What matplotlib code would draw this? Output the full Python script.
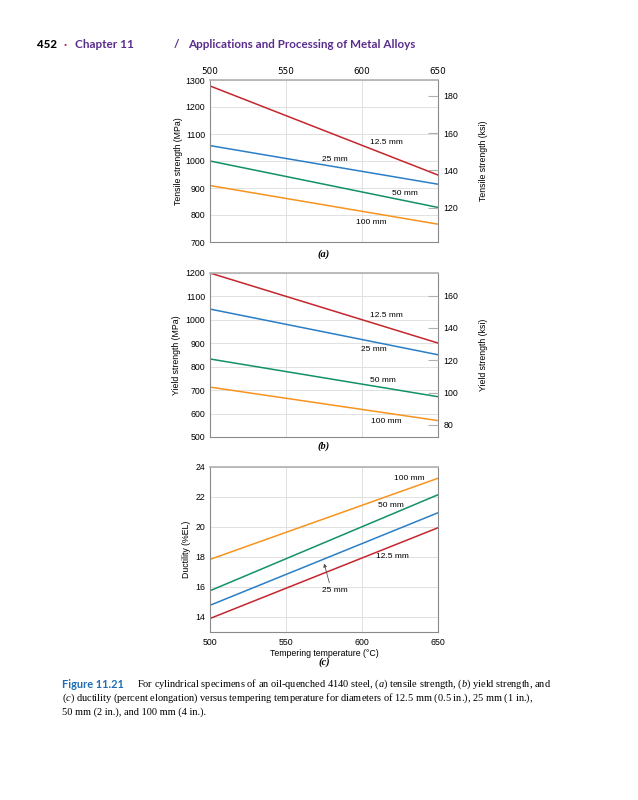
import matplotlib
matplotlib.use("Agg")
import matplotlib.pyplot as plt

W, H = 638, 800
temps = [500, 650]
diameters = ["12.5 mm", "25 mm", "50 mm", "100 mm"]
colors = ["#c4262e", "#2a7ec6", "#11906a", "#f7931e"]

tensile = {"12.5 mm": [1278, 948], "25 mm": [1057, 914], "50 mm": [1000, 828], "100 mm": [909, 766]}
yield_s = {"12.5 mm": [1200, 901], "25 mm": [1046, 851], "50 mm": [833, 672], "100 mm": [713, 570]}
ductility = {"12.5 mm": [13.9, 19.95], "25 mm": [14.78, 20.95], "50 mm": [15.75, 22.15], "100 mm": [17.84, 23.25]}

x_ticks = [500, 550, 600, 650]
tensile_ticks = [700, 800, 900, 1000, 1100, 1200, 1300]
tensile_ksi_ticks = [120, 140, 160, 180]
yield_ticks = [500, 600, 700, 800, 900, 1000, 1100, 1200]
yield_ksi_ticks = [80, 100, 120, 140, 160]
duct_ticks = [14, 16, 18, 20, 22, 24]

# label positions (x, y) in data units
tensile_lbl = {"12.5 mm": (616, 1067), "25 mm": (582, 1007), "50 mm": (628, 878), "100 mm": (606, 774)}
yield_lbl = {"12.5 mm": (616, 1018), "25 mm": (608, 873), "50 mm": (614, 741), "100 mm": (616, 567)}
duct_lbl = {"12.5 mm": (620, 18.0), "25 mm": (582, 15.77), "50 mm": (619, 21.43), "100 mm": (631, 23.22)}

MPA2KSI = 0.145038
SANS = ["Liberation Sans", "DejaVu Sans"]
TS = 6.3
tick_font = dict(family=SANS, size=6.0)
label_font = dict(family=SANS, size=6.3)

plt.rcParams["mathtext.fontset"] = "custom"
plt.rcParams["mathtext.it"] = "Liberation Serif:italic"
plt.rcParams["mathtext.rm"] = "Liberation Serif"

fig = plt.figure(figsize=(W / 100, H / 100), dpi=100)
fig.patch.set_facecolor("white")


def make_ax(top, bottom):
    return fig.add_axes([210 / W, (H - bottom) / H, 228 / W, (bottom - top) / H])


def style(ax, yticks, ylim):
    ax.set_xlim(500, 650)
    ax.set_ylim(*ylim)
    ax.set_xticks(x_ticks)
    ax.set_yticks(yticks)
    ax.grid(True, color="#dcdcdc", lw=0.6)
    ax.set_axisbelow(True)
    for s in ax.spines.values():
        s.set_color("#8a8a8a")
        s.set_linewidth(0.8)
    ax.spines["top"].set_color("#b0b0b0")
    ax.spines["top"].set_linewidth(1.2)
    ax.tick_params(axis="both", length=0, pad=3.5, labelsize=TS)
    for t in ax.get_xticklabels() + ax.get_yticklabels():
        t.set_fontfamily(SANS)


def add_right(ax, ticks, conv, label):
    ax2 = ax.twinx()
    lo, hi = ax.get_ylim()
    ax2.set_ylim(lo * conv, hi * conv)
    ax2.set_yticks(ticks)
    ax2.tick_params(axis="y", direction="in", length=7, width=0.8, color="#b0b0b0", pad=4, labelsize=TS)
    for s in ax2.spines.values():
        s.set_visible(False)
    for t in ax2.get_yticklabels():
        t.set_fontfamily(SANS)
    ax2.set_ylabel(label, fontdict=label_font, labelpad=15)
    return ax2


# Panel (a)
axa = make_ax(80, 242)
style(axa, tensile_ticks, (700, 1300))
axa.xaxis.tick_top()
axa.tick_params(axis="x", length=0, pad=3)
for d, c in zip(diameters, colors):
    axa.plot(temps, tensile[d], color=c, lw=1.1)
    axa.text(*tensile_lbl[d], d, fontdict=tick_font, ha="center", va="center")
axa.set_ylabel("Tensile strength (MPa)", fontdict=label_font, labelpad=2)
add_right(axa, tensile_ksi_ticks, MPA2KSI, "Tensile strength (ksi)")

# Panel (b)
axb = make_ax(273, 437)
style(axb, yield_ticks, (500, 1200))
axb.set_xticklabels([])
for d, c in zip(diameters, colors):
    axb.plot(temps, yield_s[d], color=c, lw=1.1)
    axb.text(*yield_lbl[d], d, fontdict=tick_font, ha="center", va="center")
axb.set_ylabel("Yield strength (MPa)", fontdict=label_font, labelpad=3)
add_right(axb, yield_ksi_ticks, MPA2KSI, "Yield strength (ksi)")

# Panel (c)
axc = make_ax(467, 632)
style(axc, duct_ticks, (13, 24))
axc.tick_params(axis="x", pad=4)
for d, c in zip(diameters, colors):
    axc.plot(temps, ductility[d], color=c, lw=1.1)
    axc.text(*duct_lbl[d], d, fontdict=tick_font, ha="center", va="center")
axc.annotate("", xy=(574.6, 17.75), xytext=(579, 16.1),
             arrowprops=dict(arrowstyle="-|>", color="#555555", lw=0.6, mutation_scale=5))
axc.set_ylabel("Ductility (%EL)", fontdict=label_font, labelpad=3)
axc.set_xlabel("Tempering temperature (\u00b0C)", fontdict=label_font, labelpad=1.5)

# panel tags
for lab, y in [("(a)", 254), ("(b)", 446), ("(c)", 662)]:
    fig.text(324 / W, 1 - y / H, lab, family=["Liberation Serif", "DejaVu Serif"],
             style="italic", weight="bold", size=7.5, ha="center", va="center")

# header
purple = "#5a2d8c"
hy = 1 - 45 / H
hf = ["Lato", "DejaVu Sans"]
fig.text(37 / W, hy, "452", family=hf, weight="black", size=8.2, color="black", va="center")
fig.text(64 / W, hy, "\u00b7", family=hf, weight="bold", size=8.2, color="#c0265a", va="center")
fig.text(75 / W, hy, "Chapter 11", family=hf, weight="bold", size=8.5, color=purple, va="center")
fig.text(174 / W, hy, "/", family=hf, weight="bold", size=8.5, color=purple, va="center")
fig.text(188 / W, hy, "Applications and Processing of Metal Alloys", family=hf, weight="bold",
         size=8.4, color=purple, va="center")

# caption
sf = ["Liberation Serif", "DejaVu Serif"]
fig.text(62 / W, 1 - 684 / H, "Figure 11.21", family=["Lato", "DejaVu Sans"], weight="bold",
         size=7.9, color="#1f6db4", va="center")
cap1 = "For cylindrical specimens of an oil-quenched 4140 steel, $\\it{(a)}$ tensile strength, $\\it{(b)}$ yield strength, and"
cap2 = "$\\it{(c)}$ ductility (percent elongation) versus tempering temperature for diameters of 12.5 mm (0.5 in.), 25 mm (1 in.),"
cap3 = "50 mm (2 in.), and 100 mm (4 in.)."
fig.text(137 / W, 1 - 684 / H, cap1, family=sf, size=7.5, va="center")
fig.text(62 / W, 1 - 698 / H, cap2, family=sf, size=7.5, va="center")
fig.text(62 / W, 1 - 712 / H, cap3, family=sf, size=7.5, va="center")

fig.savefig("out.png", dpi=100, facecolor="white")
